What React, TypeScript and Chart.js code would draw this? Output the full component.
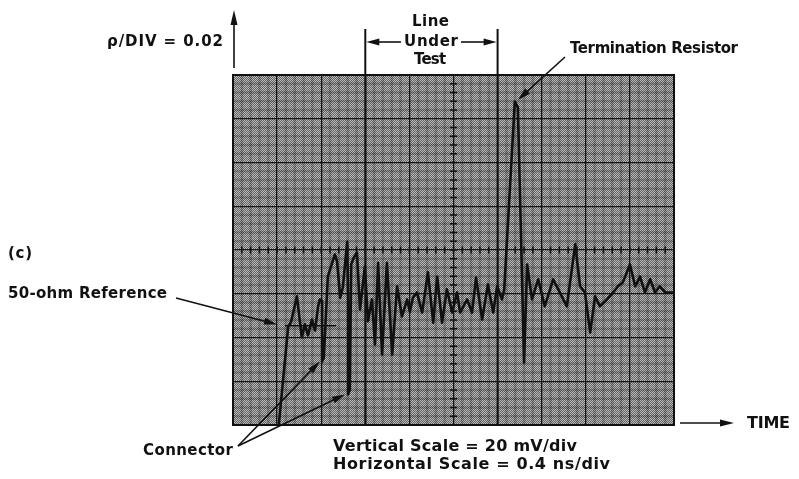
import { useEffect, useRef } from "react";
import { Chart, registerables } from "chart.js";

Chart.register(...registerables);

// Time axis in screen divisions (0.4 ns/div), 10 divisions
const xDivisions = [0, 10];
// Vertical axis in divisions (ρ/DIV = 0.02, 20 mV/div), 8 divisions, centre = 0
const yDivisions = [-4, 4];

// TDR trace (x in div, y in div from centre line)
const timeDiv = [1.04, 1.25, 1.32, 1.45, 1.56, 1.63, 1.70, 1.79, 1.86, 1.93, 1.97, 2.02, 2.02, 2.06, 2.15, 2.31, 2.36, 2.43, 2.49, 2.59, 2.61, 2.61, 2.65, 2.68, 2.74, 2.81, 2.88, 2.99, 3.06, 3.15, 3.22, 3.29, 3.38, 3.49, 3.61, 3.72, 3.83, 3.95, 4.01, 4.08, 4.17, 4.29, 4.42, 4.54, 4.63, 4.74, 4.85, 4.97, 5.08, 5.15, 5.31, 5.42, 5.51, 5.65, 5.78, 5.90, 5.99, 6.10, 6.15, 6.39, 6.46, 6.60, 6.67, 6.78, 6.92, 7.07, 7.26, 7.41, 7.57, 7.76, 7.87, 7.98, 8.10, 8.21, 8.32, 8.48, 8.62, 8.73, 8.84, 9.00, 9.12, 9.23, 9.34, 9.46, 9.57, 9.68, 9.80, 9.98];
const rhoDiv = [-3.98, -1.77, -1.63, -1.06, -2.00, -1.70, -1.95, -1.59, -1.84, -1.29, -1.13, -1.17, -2.55, -2.46, -0.61, -0.10, -0.26, -1.09, -0.86, 0.19, -1.13, -3.30, -3.19, -0.33, -0.17, -0.06, -1.36, -0.38, -1.63, -1.13, -2.16, -0.29, -2.39, -0.29, -2.39, -0.83, -1.52, -1.13, -1.41, -1.09, -0.97, -1.43, -0.51, -1.66, -0.61, -1.66, -0.90, -1.43, -0.97, -1.43, -1.13, -1.43, -0.63, -1.59, -0.79, -1.43, -0.83, -1.13, -0.90, 3.39, 3.26, -2.57, -0.33, -1.13, -0.67, -1.29, -0.67, -0.97, -1.29, 0.13, -0.83, -0.97, -1.89, -1.06, -1.29, -1.13, -0.97, -0.83, -0.74, -0.33, -0.83, -0.61, -0.97, -0.67, -0.97, -0.83, -0.97, -0.97];

// 50-ohm reference level mark
const refX = [1.18, 2.34];
const refY = [-1.73, -1.73];

// "Line Under Test" boundaries (div)
const lineUnderTest = [3, 6];

// Annotation arrow targets (div)
const refArrowTip = { x: 1.0, y: -1.70 };
const connectorTips = [
  { x: 1.97, y: -2.55 },
  { x: 2.54, y: -3.30 },
];
const terminationTip = { x: 6.46, y: 3.43 };

const FONT = '"DejaVu Sans", Verdana, sans-serif';

function fitText(ctx: CanvasRenderingContext2D, text: string, left: number, y: number, width: number, size: number) {
  ctx.font = `bold ${size}px ${FONT}`;
  (ctx as any).letterSpacing = "0px";
  const w = ctx.measureText(text).width;
  const n = Array.from(text).length;
  let ls = n > 1 ? (width - w) / (n - 1) : 0;
  ls = Math.max(-0.8, Math.min(3, ls));
  (ctx as any).letterSpacing = `${ls}px`;
  ctx.textAlign = "left";
  ctx.textBaseline = "middle";
  ctx.fillStyle = "#111";
  ctx.fillText(text, left, y);
  (ctx as any).letterSpacing = "0px";
}

function arrow(ctx: CanvasRenderingContext2D, x1: number, y1: number, x2: number, y2: number, len = 12, half = 3.5, lw = 1.6) {
  const ang = Math.atan2(y2 - y1, x2 - x1);
  ctx.strokeStyle = "#111";
  ctx.fillStyle = "#111";
  ctx.lineWidth = lw;
  ctx.beginPath();
  ctx.moveTo(x1, y1);
  ctx.lineTo(x2 - Math.cos(ang) * len * 0.6, y2 - Math.sin(ang) * len * 0.6);
  ctx.stroke();
  ctx.beginPath();
  ctx.moveTo(x2, y2);
  ctx.lineTo(x2 - Math.cos(ang) * len - Math.sin(ang) * half, y2 - Math.sin(ang) * len + Math.cos(ang) * half);
  ctx.lineTo(x2 - Math.cos(ang) * len + Math.sin(ang) * half, y2 - Math.sin(ang) * len - Math.cos(ang) * half);
  ctx.closePath();
  ctx.fill();
}

const scopePlugin = {
  id: "scope",
  beforeDraw(chart: any) {
    const { ctx, chartArea: a, scales } = chart;
    const x = scales.x;
    const y = scales.y;
    ctx.save();
    const pc = document.createElement("canvas");
    pc.width = 2;
    pc.height = 2;
    const p = pc.getContext("2d")!;
    p.fillStyle = "#626262";
    p.fillRect(0, 0, 2, 2);
    p.fillStyle = "#bcbcbc";
    p.fillRect(0, 0, 1, 1);
    p.fillRect(1, 1, 1, 1);
    ctx.fillStyle = ctx.createPattern(pc, "repeat");
    ctx.fillRect(a.left, a.top, a.right - a.left, a.bottom - a.top);
    ctx.strokeStyle = "rgba(25,25,25,0.22)";
    ctx.lineWidth = 2.5;
    for (let i = 0; i <= 50; i++) {
      if (i % 5 === 0) continue;
      const px = x.getPixelForValue(xDivisions[0] + i / 5);
      ctx.beginPath();
      ctx.moveTo(px, a.top);
      ctx.lineTo(px, a.bottom);
      ctx.stroke();
    }
    for (let j = 0; j <= 40; j++) {
      if (j % 5 === 0) continue;
      const py = y.getPixelForValue(yDivisions[0] + j / 5);
      ctx.beginPath();
      ctx.moveTo(a.left, py);
      ctx.lineTo(a.right, py);
      ctx.stroke();
    }
    ctx.restore();
  },
  beforeDatasetsDraw(chart: any) {
    const { ctx, chartArea: a, scales } = chart;
    const x = scales.x;
    const y = scales.y;
    ctx.save();
    ctx.strokeStyle = "#111";
    ctx.lineWidth = 1.5;
    const cy = y.getPixelForValue(0);
    const cx = x.getPixelForValue(5);
    for (let i = 0; i <= 50; i++) {
      const px = x.getPixelForValue(i / 5);
      ctx.beginPath();
      ctx.moveTo(px, cy - 3.5);
      ctx.lineTo(px, cy + 3.5);
      ctx.stroke();
    }
    for (let j = 0; j <= 40; j++) {
      const py = y.getPixelForValue(-4 + j / 5);
      ctx.beginPath();
      ctx.moveTo(cx - 3.5, py);
      ctx.lineTo(cx + 3.5, py);
      ctx.stroke();
    }
    // Line under test boundaries
    ctx.lineWidth = 2;
    for (const v of lineUnderTest) {
      const px = x.getPixelForValue(v);
      ctx.beginPath();
      ctx.moveTo(px, 29);
      ctx.lineTo(px, a.bottom);
      ctx.stroke();
    }
    // outer frame
    ctx.lineWidth = 2;
    ctx.strokeRect(a.left, a.top, a.right - a.left, a.bottom - a.top);
    ctx.restore();
  },
  afterDraw(chart: any) {
    const { ctx, chartArea: a, scales } = chart;
    const x = scales.x;
    const y = scales.y;
    ctx.save();
    // vertical axis arrow
    arrow(ctx, a.left + 1, a.top - 7, a.left + 1, 10, 15, 3.5, 1.6);
    // TIME arrow
    arrow(ctx, 680, a.bottom - 2, 734, a.bottom - 2, 14, 3.5, 1.6);
    // Line under test arrows
    const l = x.getPixelForValue(lineUnderTest[0]);
    const r = x.getPixelForValue(lineUnderTest[1]);
    arrow(ctx, 401, 42, l + 1, 42, 13, 3.5, 1.6);
    arrow(ctx, 461, 42, r - 1, 42, 13, 3.5, 1.6);
    // 50-ohm reference arrow
    arrow(ctx, 176, 298, x.getPixelForValue(refArrowTip.x), y.getPixelForValue(refArrowTip.y), 13, 3.5, 1.6);
    // Connector arrows
    for (const t of connectorTips) {
      arrow(ctx, 238, 446, x.getPixelForValue(t.x), y.getPixelForValue(t.y), 13, 3.5, 1.6);
    }
    // Termination resistor arrow
    arrow(ctx, 565, 57, x.getPixelForValue(terminationTip.x), y.getPixelForValue(terminationTip.y), 13, 3.5, 1.6);

    // Texts
    fitText(ctx, "\u03C1/DIV = 0.02", 107, 42, 116, 15);
    fitText(ctx, "Line", 412, 22, 37, 15);
    fitText(ctx, "Under", 404, 42, 54, 15);
    fitText(ctx, "Test", 414, 60, 32, 15);
    fitText(ctx, "Termination Resistor", 570, 49, 168, 15);
    fitText(ctx, "(c)", 8, 254, 24, 15);
    fitText(ctx, "50-ohm Reference", 8, 294, 159, 15);
    fitText(ctx, "Connector", 143, 451, 90, 15);
    fitText(ctx, "Vertical Scale = 20 mV/div", 333, 447, 244, 16);
    fitText(ctx, "Horizontal Scale = 0.4 ns/div", 333, 465, 277, 16);
    fitText(ctx, "TIME", 747, 424, 43, 16);
    ctx.restore();
  },
};

export default function App() {
  const ref = useRef<HTMLCanvasElement>(null);
  useEffect(() => {
    document.body.style.margin = "0";
    const canvas = ref.current!;
    const chart = new Chart(canvas, {
      type: "line",
      data: {
        datasets: [
          {
            label: "TDR trace",
            data: timeDiv.map((t, i) => ({ x: t, y: rhoDiv[i] })),
            borderColor: "#101010",
            borderWidth: 2.6,
            pointRadius: 0,
            tension: 0,
            borderJoinStyle: "round",
          },
          {
            label: "50-ohm reference",
            data: refX.map((t, i) => ({ x: t, y: refY[i] })),
            borderColor: "#101010",
            borderWidth: 1.6,
            pointRadius: 0,
          },
        ],
      },
      options: {
        responsive: false,
        animation: false,
        devicePixelRatio: 1,
        layout: { padding: { left: 233, top: 75, right: 125, bottom: 54 } },
        plugins: { legend: { display: false }, tooltip: { enabled: false } },
        scales: {
          x: {
            type: "linear",
            min: xDivisions[0],
            max: xDivisions[1],
            ticks: { display: false, stepSize: 1 },
            grid: { color: "#151515", lineWidth: 1.3, drawTicks: false },
            border: { display: true, color: "#111", width: 2 },
          },
          y: {
            type: "linear",
            min: yDivisions[0],
            max: yDivisions[1],
            ticks: { display: false, stepSize: 1 },
            grid: { color: "#151515", lineWidth: 1.3, drawTicks: false },
            border: { display: true, color: "#111", width: 2 },
          },
        },
      },
      plugins: [scopePlugin],
    } as any);
    return () => chart.destroy();
  }, []);
  return (
    <div style={{ position: "absolute", left: 0, top: 0, width: 799, height: 479, background: "#fff" }}>
      <canvas ref={ref} width={799} height={479} style={{ display: "block", width: 799, height: 479 }} />
    </div>
  );
}
